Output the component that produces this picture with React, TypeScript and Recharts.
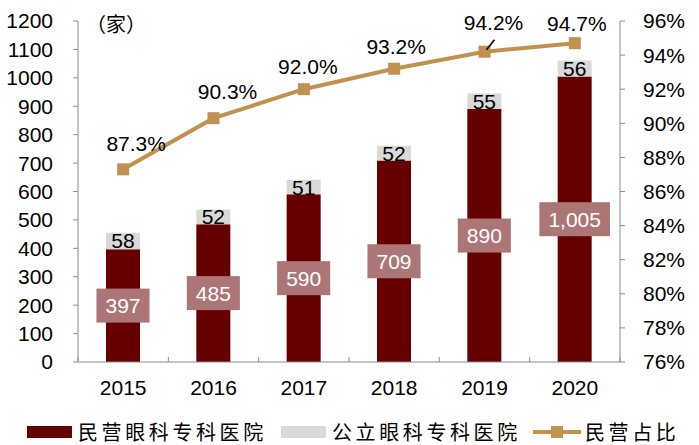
import { Bar, ComposedChart, LabelList, Legend, Line, XAxis, YAxis } from 'recharts';

const years = ['2015', '2016', '2017', '2018', '2019', '2020'];
const privateCounts = [397, 485, 590, 709, 890, 1005];
const publicCounts = [58, 52, 51, 52, 55, 56];
const privateShare = [87.3, 90.3, 92.0, 93.2, 94.2, 94.7];
const countTicks = [0, 100, 200, 300, 400, 500, 600, 700, 800, 900, 1000, 1100, 1200];
const shareTicks = [76, 78, 80, 82, 84, 86, 88, 90, 92, 94, 96];

const data = years.map((year, i) => ({
  year,
  privateCount: privateCounts[i],
  publicCount: publicCounts[i],
  share: privateShare[i],
}));

const DARK = '#660000';
const LIGHT = '#D9D9D9';
const BOX = '#AD7676';
const GOLD = '#C0914F';
const AXIS = '#8C8C8C';
const NUM_FONT = '"Liberation Sans", Arial, sans-serif';
const CJK_FONT = '"Noto Sans CJK SC", sans-serif';

const W = 699;
const H = 445;
const LEFT_W = 78;
const RIGHT_W = 79;
const HALF_BAND = (W - LEFT_W - RIGHT_W) / years.length / 2;

// label nudges for the share line (dx, dy from the marker)
const shareLabelShift = [
  [13, -26],
  [14, -27],
  [4, -23],
  [2, -22],
  [9, -29],
  [2, -20],
];

function YearTick(props: any) {
  const { x, y, payload } = props;
  const axisY = y - 26;
  const isLast = payload.value === years[years.length - 1];
  return (
    <g>
      <line x1={x - HALF_BAND} x2={x - HALF_BAND} y1={axisY} y2={axisY - 5} stroke={AXIS} />
      {isLast && <line x1={x + HALF_BAND} x2={x + HALF_BAND} y1={axisY} y2={axisY - 5} stroke={AXIS} />}
      <text x={x} y={y} dy="0.355em" textAnchor="middle" fill="#000" fontSize={21} fontFamily={NUM_FONT}>
        {payload.value}
      </text>
    </g>
  );
}

function PrivateLabel(props: any) {
  const { x, y, width, height, value } = props;
  const cx = x + width / 2;
  const cy = y + height / 2;
  const text = Number(value).toLocaleString('en-US');
  const textW = text.replace(/,/g, '').length * 11.7 + (text.includes(',') ? 5.8 : 0);
  const boxW = textW + 18;
  return (
    <g>
      <rect x={cx - boxW / 2} y={cy - 17} width={boxW} height={34} fill={BOX} />
      <text x={cx} y={cy} dy="0.355em" textAnchor="middle" fill="#fff" fontSize={21} fontFamily={NUM_FONT}>
        {text}
      </text>
    </g>
  );
}

function PublicLabel(props: any) {
  const { x, y, width, height, value } = props;
  return (
    <text x={x + width / 2} y={y + height / 2} dy="0.355em" textAnchor="middle" fill="#000" fontSize={21} fontFamily={NUM_FONT}>
      {value}
    </text>
  );
}

function ShareLabel(props: any) {
  const { x, y, value, index } = props;
  const [dx, dy] = shareLabelShift[index];
  return (
    <g>
      {index === 4 && <line x1={x + 10} y1={y - 12} x2={x + 2} y2={y - 2} stroke="#000" strokeWidth={1.5} />}
      <text x={x + dx} y={y + dy} dy="0.355em" textAnchor="middle" fill="#000" fontSize={21} fontFamily={NUM_FONT}>
        {value.toFixed(1)}%
      </text>
    </g>
  );
}

function SquareDot(props: any) {
  const { cx, cy } = props;
  return <rect x={cx - 6} y={cy - 6} width={12} height={12} fill={GOLD} />;
}

function LegendContent() {
  const label = { position: 'absolute' as const, top: 0, lineHeight: '26px', fontSize: 20, letterSpacing: 3.6, fontFamily: CJK_FONT, color: '#000', whiteSpace: 'nowrap' as const };
  return (
    <div style={{ position: 'relative', width: W, height: 26 }}>
      <div style={{ position: 'absolute', left: 27, top: 7, width: 45, height: 12, background: DARK }} />
      <span style={{ ...label, left: 78 }}>民营眼科专科医院</span>
      <div style={{ position: 'absolute', left: 281, top: 7, width: 45, height: 12, background: LIGHT }} />
      <span style={{ ...label, left: 332 }}>公立眼科专科医院</span>
      <div style={{ position: 'absolute', left: 533, top: 11, width: 48, height: 4, background: GOLD }} />
      <div style={{ position: 'absolute', left: 551, top: 7, width: 12, height: 12, background: GOLD }} />
      <span style={{ ...label, left: 585 }}>民营占比</span>
    </div>
  );
}

export default function App() {
  return (
    <div style={{ position: 'fixed', left: 0, top: 0, width: W, height: H, overflow: 'hidden', background: '#fff' }}>
      <ComposedChart width={W} height={H} data={data} margin={{ top: 21, right: 0, bottom: 0, left: 0 }}>
        <XAxis
          dataKey="year"
          height={57}
          stroke={AXIS}
          tickLine={false}
          tickSize={0}
          tickMargin={26}
          tick={<YearTick />}
        />
        <YAxis
          yAxisId="count"
          width={LEFT_W}
          domain={[0, 1200]}
          ticks={countTicks}
          interval={0}
          stroke={AXIS}
          tickSize={5}
          tickMargin={20}
          tick={{ fill: '#000', fontSize: 21, fontFamily: NUM_FONT }}
        />
        <YAxis
          yAxisId="share"
          orientation="right"
          width={RIGHT_W}
          domain={[76, 96]}
          ticks={shareTicks}
          interval={0}
          stroke={AXIS}
          tickSize={5}
          tickMargin={18}
          tickFormatter={(v: number) => `${v}%`}
          tick={{ fill: '#000', fontSize: 21, fontFamily: NUM_FONT, textAnchor: 'start' }}
        />
        <Legend verticalAlign="bottom" wrapperStyle={{ left: 0, width: W }} content={<LegendContent />} />
        <Bar yAxisId="count" dataKey="privateCount" stackId="a" fill={DARK} barSize={34} isAnimationActive={false}>
          <LabelList dataKey="privateCount" content={<PrivateLabel />} />
        </Bar>
        <Bar yAxisId="count" dataKey="publicCount" stackId="a" fill={LIGHT} barSize={34} isAnimationActive={false}>
          <LabelList dataKey="publicCount" content={<PublicLabel />} />
        </Bar>
        <Line
          yAxisId="share"
          dataKey="share"
          stroke={GOLD}
          strokeWidth={4}
          dot={<SquareDot />}
          activeDot={false}
          isAnimationActive={false}
        >
          <LabelList dataKey="share" content={<ShareLabel />} />
        </Line>
      </ComposedChart>
      <div style={{ position: 'absolute', left: 86, top: 9, fontSize: 20, fontFamily: CJK_FONT, color: '#000' }}>（家）</div>
    </div>
  );
}
